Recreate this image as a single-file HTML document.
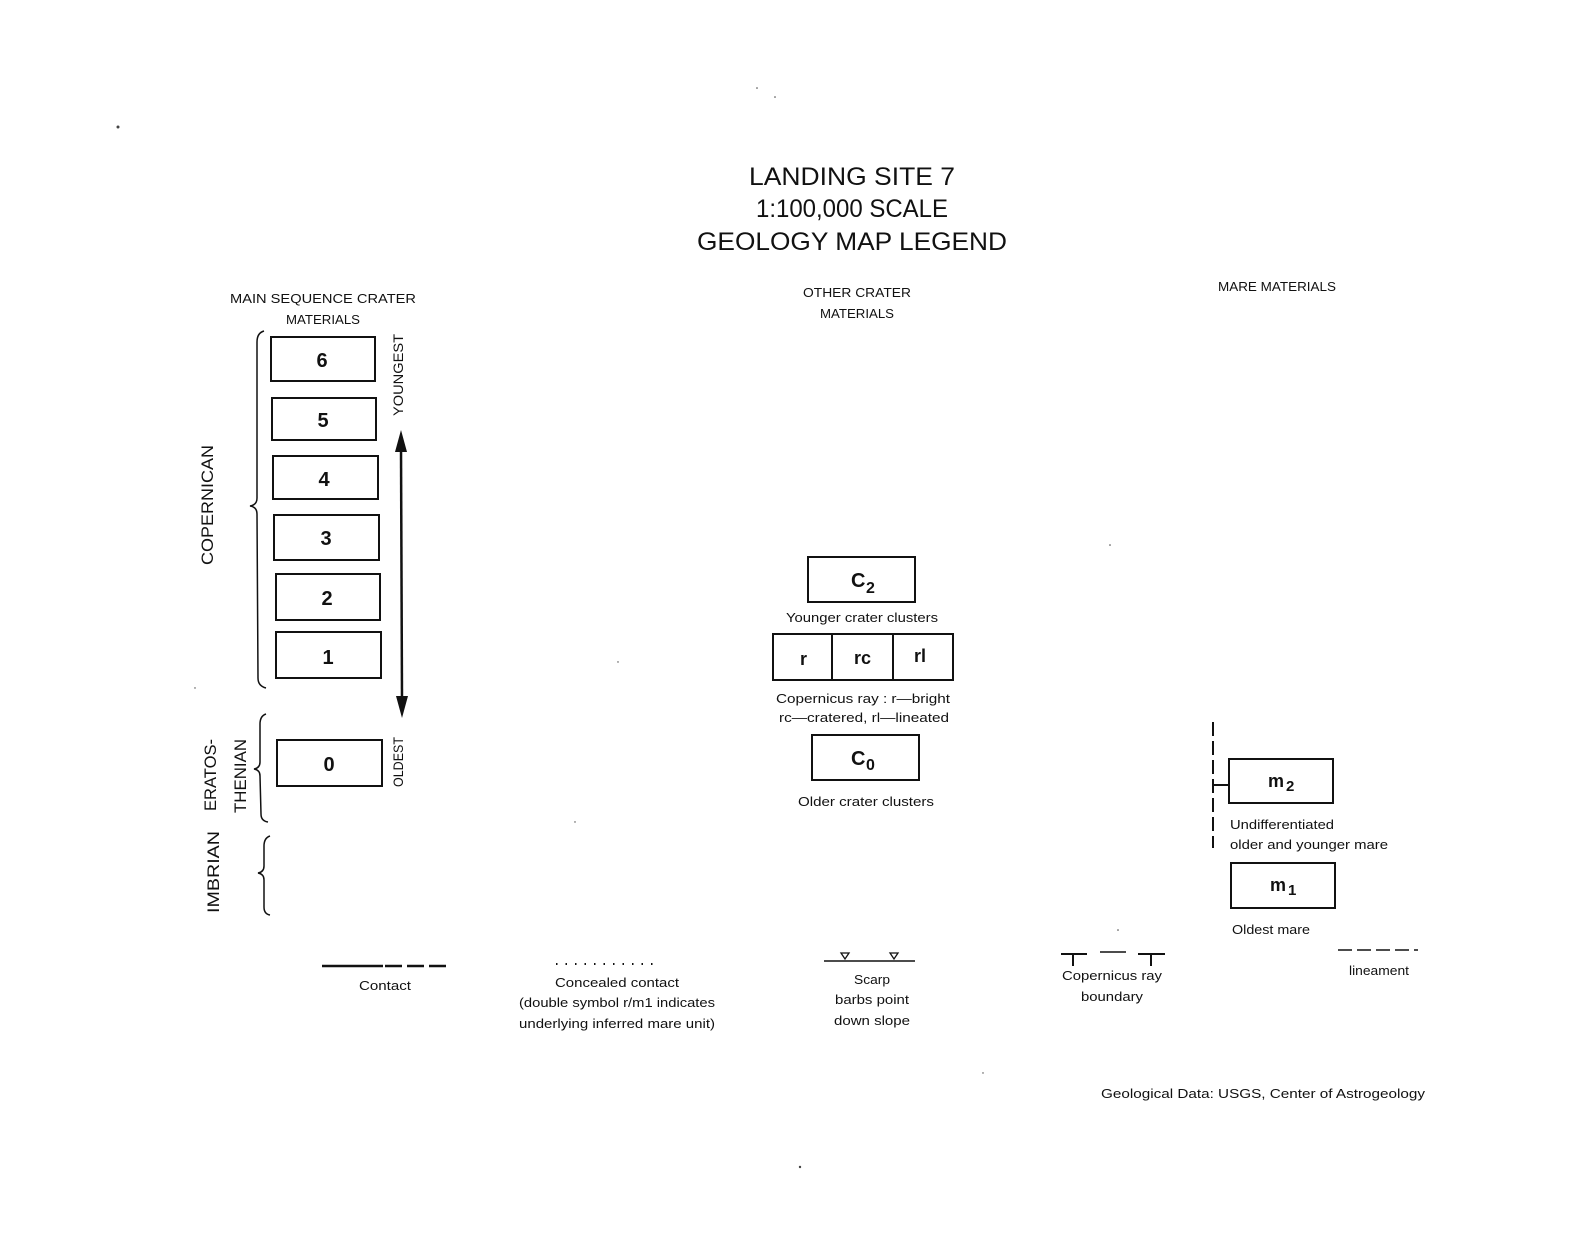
<!DOCTYPE html>
<html><head><meta charset="utf-8"><style>
html,body{margin:0;padding:0;background:#fff;}
svg{display:block;}
text{font-family:"Liberation Sans",sans-serif;fill:#111;}
.b{fill:none;stroke:#111;stroke-width:2;}
.n{font-family:"Liberation Sans Narrow","Liberation Sans",sans-serif;font-weight:bold;font-size:20px;}
</style></head><body>
<svg width="1586" height="1252" viewBox="0 0 1586 1252" xmlns="http://www.w3.org/2000/svg">
<rect width="1586" height="1252" fill="#fff"/>
<!-- specks -->
<g fill="#444">
<circle cx="118" cy="127" r="1.5"/><circle cx="800" cy="1167" r="1.2"/><circle cx="757" cy="88" r="0.8"/><circle cx="775" cy="97" r="0.8"/><circle cx="1110" cy="545" r="0.8"/><circle cx="618" cy="662" r="0.7"/><circle cx="575" cy="822" r="0.7"/><circle cx="1118" cy="930" r="0.8"/><circle cx="983" cy="1073" r="0.7"/><circle cx="195" cy="688" r="0.7"/>
</g>
<!-- title -->
<g text-anchor="middle" font-size="25">
<text x="852" y="185" textLength="206" lengthAdjust="spacingAndGlyphs">LANDING SITE 7</text>
<text x="852" y="217" textLength="192" lengthAdjust="spacingAndGlyphs">1:100,000 SCALE</text>
<text x="852" y="250" textLength="310" lengthAdjust="spacingAndGlyphs">GEOLOGY MAP LEGEND</text>
</g>
<g text-anchor="middle" font-size="13">
<text x="323" y="303" textLength="186" lengthAdjust="spacingAndGlyphs">MAIN SEQUENCE CRATER</text>
<text x="323" y="324" textLength="74" lengthAdjust="spacingAndGlyphs">MATERIALS</text>
<text x="857" y="297" textLength="108" lengthAdjust="spacingAndGlyphs">OTHER CRATER</text>
<text x="857" y="318" textLength="74" lengthAdjust="spacingAndGlyphs">MATERIALS</text>
<text x="1277" y="291" textLength="118" lengthAdjust="spacingAndGlyphs">MARE MATERIALS</text>
</g>
<!-- main sequence boxes -->
<g class="b">
<rect x="271" y="337" width="104" height="44"/>
<rect x="272" y="398" width="104" height="42"/>
<rect x="273" y="456" width="105" height="43"/>
<rect x="274" y="515" width="105" height="45"/>
<rect x="276" y="574" width="104" height="46"/>
<rect x="276" y="632" width="105" height="46"/>
<rect x="277" y="740" width="105" height="46"/>
</g>
<g class="n" text-anchor="middle">
<text x="322" y="367">6</text><text x="323" y="427">5</text><text x="324" y="486">4</text>
<text x="326" y="545">3</text><text x="327" y="605">2</text><text x="328" y="664">1</text>
<text x="329" y="771">0</text>
</g>
<!-- braces -->
<g fill="none" stroke="#111" stroke-width="1.5">
<path d="M264 331 Q257 333 257 342 L257 498 Q257 505 250 506 Q257 507 257 514 L258 678 Q258 686 266 688"/>
<path d="M266 714 Q260 716 260 724 L260 762 Q260 768 254 769 Q260 770 260 776 L261 814 Q261 821 268 822"/>
<path d="M270 836 Q264 838 264 846 L264 866 Q264 872 258 873 Q264 874 264 880 L264 907 Q264 914 270 915"/>
</g>
<!-- arrow -->
<line x1="401" y1="448" x2="402" y2="700" stroke="#111" stroke-width="2.5"/>
<polygon points="401,430 395,452 407,452" fill="#111"/>
<polygon points="402,718 396,696 408,696" fill="#111"/>
<!-- rotated labels -->
<g font-size="14">
<text transform="translate(403,375) rotate(-90)" text-anchor="middle" textLength="82" lengthAdjust="spacingAndGlyphs">YOUNGEST</text>
<text transform="translate(403,762) rotate(-90)" text-anchor="middle" textLength="50" lengthAdjust="spacingAndGlyphs">OLDEST</text>
</g>
<g font-size="17">
<text transform="translate(213,505) rotate(-90)" text-anchor="middle" textLength="120" lengthAdjust="spacingAndGlyphs">COPERNICAN</text>
<text transform="translate(216,775) rotate(-90)" text-anchor="middle" textLength="72" lengthAdjust="spacingAndGlyphs">ERATOS-</text>
<text transform="translate(246,776) rotate(-90)" text-anchor="middle" textLength="74" lengthAdjust="spacingAndGlyphs">THENIAN</text>
<text transform="translate(219,872) rotate(-90)" text-anchor="middle" textLength="82" lengthAdjust="spacingAndGlyphs">IMBRIAN</text>
</g>
<!-- other crater materials -->
<g class="b">
<rect x="808" y="557" width="107" height="45"/>
<rect x="773" y="634" width="180" height="46"/>
<line x1="832" y1="634" x2="832" y2="680"/>
<line x1="893" y1="634" x2="893" y2="680"/>
<rect x="812" y="735" width="107" height="45"/>
</g>
<g class="n">
<text x="851" y="587">C</text><text x="866" y="593" font-size="16">2</text>
<text x="800" y="665" font-size="18">r</text>
<text x="854" y="664" font-size="18">rc</text>
<text x="914" y="662" font-size="18">rl</text>
<text x="851" y="765">C</text><text x="866" y="770" font-size="16">0</text>
</g>
<g font-size="13" text-anchor="middle">
<text x="862" y="622" textLength="152" lengthAdjust="spacingAndGlyphs">Younger crater clusters</text>
<text x="863" y="703" textLength="174" lengthAdjust="spacingAndGlyphs">Copernicus ray : r—bright</text>
<text x="864" y="722" textLength="170" lengthAdjust="spacingAndGlyphs">rc—cratered, rl—lineated</text>
<text x="866" y="806" textLength="136" lengthAdjust="spacingAndGlyphs">Older crater clusters</text>
</g>
<!-- mare -->
<line x1="1213" y1="722" x2="1213" y2="848" stroke="#111" stroke-width="2" stroke-dasharray="14,5"/>
<line x1="1213" y1="785" x2="1229" y2="785" stroke="#111" stroke-width="2"/>
<g class="b">
<rect x="1229" y="759" width="104" height="44"/>
<rect x="1231" y="863" width="104" height="45"/>
</g>
<g class="n">
<text x="1268" y="787" font-size="18">m</text><text x="1286" y="791" font-size="15">2</text>
<text x="1270" y="891" font-size="18">m</text><text x="1288" y="895" font-size="15">1</text>
</g>
<g font-size="13">
<text x="1230" y="829" textLength="104" lengthAdjust="spacingAndGlyphs">Undifferentiated</text>
<text x="1230" y="849" textLength="158" lengthAdjust="spacingAndGlyphs">older and younger mare</text>
<text x="1232" y="934" textLength="78" lengthAdjust="spacingAndGlyphs">Oldest mare</text>
</g>
<!-- bottom symbols -->
<line x1="322" y1="966" x2="383" y2="966" stroke="#111" stroke-width="2.5"/>
<line x1="385" y1="966" x2="446" y2="966" stroke="#111" stroke-width="2.5" stroke-dasharray="17,5"/>
<line x1="556" y1="964" x2="660" y2="964" stroke="#111" stroke-width="2" stroke-dasharray="1.5,8"/>
<line x1="824" y1="961" x2="915" y2="961" stroke="#111" stroke-width="1.5"/>
<polygon points="841,953 849,953 845,959" fill="none" stroke="#111" stroke-width="1.3"/>
<polygon points="890,953 898,953 894,959" fill="none" stroke="#111" stroke-width="1.3"/>
<g stroke="#111" stroke-width="2">
<line x1="1061" y1="954" x2="1087" y2="954"/><line x1="1073" y1="954" x2="1073" y2="966"/>
<line x1="1100" y1="952" x2="1126" y2="952" stroke-width="1.5"/>
<line x1="1138" y1="954" x2="1165" y2="954"/><line x1="1151" y1="954" x2="1151" y2="966"/>
</g>
<line x1="1338" y1="950" x2="1418" y2="950" stroke="#111" stroke-width="1.5" stroke-dasharray="14,5"/>
<g font-size="13" text-anchor="middle">
<text x="385" y="990" textLength="52" lengthAdjust="spacingAndGlyphs">Contact</text>
<text x="617" y="987" textLength="124" lengthAdjust="spacingAndGlyphs">Concealed contact</text>
<text x="617" y="1007" textLength="196" lengthAdjust="spacingAndGlyphs">(double symbol r/m1 indicates</text>
<text x="617" y="1028" textLength="196" lengthAdjust="spacingAndGlyphs">underlying inferred mare unit)</text>
<text x="872" y="984" textLength="36" lengthAdjust="spacingAndGlyphs">Scarp</text>
<text x="872" y="1004" textLength="74" lengthAdjust="spacingAndGlyphs">barbs point</text>
<text x="872" y="1025" textLength="76" lengthAdjust="spacingAndGlyphs">down slope</text>
<text x="1112" y="980" textLength="100" lengthAdjust="spacingAndGlyphs">Copernicus ray</text>
<text x="1112" y="1001" textLength="62" lengthAdjust="spacingAndGlyphs">boundary</text>
<text x="1379" y="975" textLength="60" lengthAdjust="spacingAndGlyphs">lineament</text>
</g>
<text x="1101" y="1098" font-size="13" textLength="324" lengthAdjust="spacingAndGlyphs">Geological Data: USGS, Center of Astrogeology</text>
</svg>
</body></html>
